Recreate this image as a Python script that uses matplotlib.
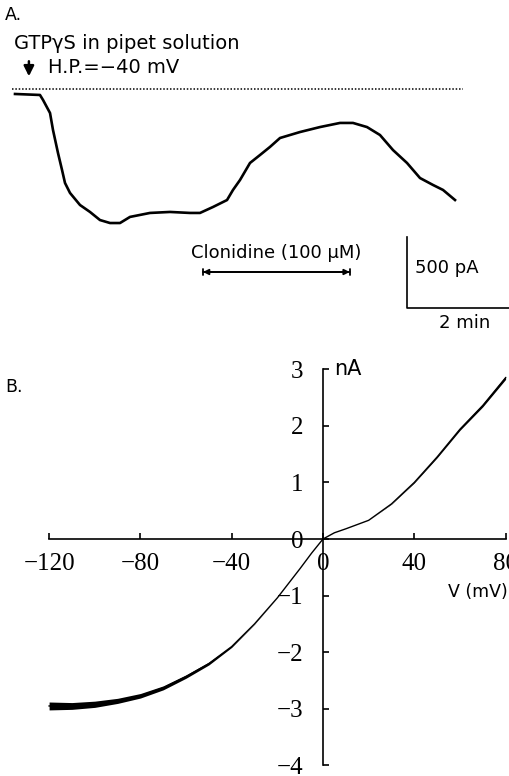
import matplotlib
matplotlib.use("Agg")
from matplotlib import pyplot as plt

# Panel A: holding current trace (time in min, current in pA, 0 = dotted baseline)
temps_a = [0.0, 0.485, 0.544, 0.680, 0.738, 0.835, 0.913, 0.971, 1.068, 1.262, 1.456, 1.650,
           1.845, 2.039, 2.233, 2.621, 3.010, 3.398, 3.592, 3.845, 4.117, 4.233, 4.369, 4.563,
           4.757, 4.951, 5.146, 5.534, 5.922, 6.311, 6.563, 6.835, 7.087, 7.340, 7.612, 7.864,
           8.117, 8.311, 8.544]
courant_a = [-35, -42, -77, -169, -289, -451, -570, -662, -732, -817, -866, -923,
             -944, -944, -901, -873, -866, -873, -873, -831, -782, -711, -641, -521,
             -465, -408, -345, -303, -268, -239, -239, -268, -324, -430, -521, -627,
             -676, -711, -782]
clonidine = (3.65, 6.50)

# Panel B: I-V relation
tension = [-120, -110, -100, -90, -80, -70, -60, -50, -40, -30, -20, -10, -5, 0, 5, 10,
           20, 30, 40, 50, 60, 70, 80]
courant_b = [-2.95, -2.95, -2.92, -2.86, -2.77, -2.63, -2.43, -2.2, -1.9, -1.5, -1.04, -0.52,
             -0.25, 0.0, 0.11, 0.18, 0.33, 0.62, 1.0, 1.45, 1.94, 2.36, 2.85]
bruit_b = [0.07, 0.06, 0.055, 0.045, 0.04, 0.035, 0.03, 0.025, 0.015, 0.005, 0.0, 0.0, 0.0, 0.0,
           0.0, 0.0, 0.0, 0.005, 0.01, 0.015, 0.02, 0.025, 0.03]

W, H = 510, 776
fig = plt.figure(figsize=(W / 100, H / 100), dpi=100)
sans = "DejaVu Sans"

# ---------- A ----------
axA = fig.add_axes([0, 1 - 340 / H, 1, 340 / H])
axA.set_xlim(-15 / 51.5, 495 / 51.5)
axA.set_ylim(-1768, 627)
axA.axis("off")

axA.plot([-0.058, 8.70], [0, 0], color="black", lw=1.1, linestyle=(0, (1, 1.2)))
axA.plot(temps_a, courant_a, color="black", lw=1.9)

axA.text(-0.19, 521, "A.", fontsize=12.5, family=sans, va="center", ha="left")
axA.text(-0.02, 324, "GTPγS in pipet solution", fontsize=14, family=sans, va="center", ha="left")
axA.text(0.64, 155, "H.P.=−40 mV", fontsize=14, family=sans, va="center", ha="left")
axA.annotate("", xy=(0.27, 70), xytext=(0.27, 215),
             arrowprops=dict(arrowstyle="-|>", color="black", lw=1.8, mutation_scale=15))

# clonidine application bar
axA.annotate("", xy=(clonidine[1], -1289), xytext=(clonidine[0], -1289),
             arrowprops=dict(arrowstyle="<|-|>", color="black", lw=1.3, mutation_scale=8,
                             shrinkA=0, shrinkB=0))
axA.annotate("", xy=(clonidine[1], -1289), xytext=(clonidine[0], -1289),
             arrowprops=dict(arrowstyle="|-|,widthA=0.25,widthB=0.25", color="black", lw=1.3,
                             shrinkA=0, shrinkB=0))
axA.text(sum(clonidine) / 2, -1155, "Clonidine (100 μM)", fontsize=13, family=sans,
         va="center", ha="center")

# scale bars
axA.plot([7.61, 7.61, 9.61], [-1042, -1542, -1542], color="black", lw=1.2)
axA.text(7.77, -1261, "500 pA", fontsize=13, family=sans, va="center", ha="left")
axA.text(8.73, -1648, "2 min", fontsize=13, family=sans, va="center", ha="center")

# ---------- B ----------
axB = fig.add_axes([0, 0, 1, 426 / H])
axB.set_xlim(-323 / 2.2825, 187 / 2.2825)
axB.set_ylim(-237 / 56.6, 189 / 56.6)

bas = [c - b for c, b in zip(courant_b, bruit_b)]
haut = [c + b for c, b in zip(courant_b, bruit_b)]
axB.fill_between(tension, bas, haut, color="black", lw=0)
axB.plot(tension, courant_b, color="black", lw=1.0)

for s in ["top", "right"]:
    axB.spines[s].set_visible(False)
axB.spines["left"].set_position(("data", 0))
axB.spines["bottom"].set_position(("data", 0))
axB.spines["left"].set_bounds(-4, 3)
axB.spines["bottom"].set_bounds(-120, 80)
axB.spines["left"].set_linewidth(1.2)
axB.spines["bottom"].set_linewidth(1.2)

axB.set_xticks([-120, -80, -40, 0, 40, 80])
axB.set_xticklabels(["−120", "−80", "−40", "0", "40", "80"])
axB.set_yticks([-4, -3, -2, -1, 0, 1, 2, 3])
axB.set_yticklabels(["−4", "−3", "−2", "−1", "0", "1", "2", "3"])
serif = "Liberation Serif"
axB.tick_params(axis="x", direction="in", length=4, width=1.2, pad=10, labelsize=18)
axB.tick_params(axis="y", direction="in", length=4, width=1.2, pad=14, labelsize=18)
for lab in axB.get_xticklabels() + axB.get_yticklabels():
    lab.set_family(serif)

axB.text(5, 3.0, "nA", fontsize=15, family=sans, va="center", ha="left")
axB.text(81, -0.93, "V (mV)", fontsize=12.5, family=sans, va="center", ha="right")
fig.text(5 / W, 1 - 387 / H, "B.", fontsize=12.5, family=sans, va="center", ha="left")

fig.savefig("out.png", dpi=100)
